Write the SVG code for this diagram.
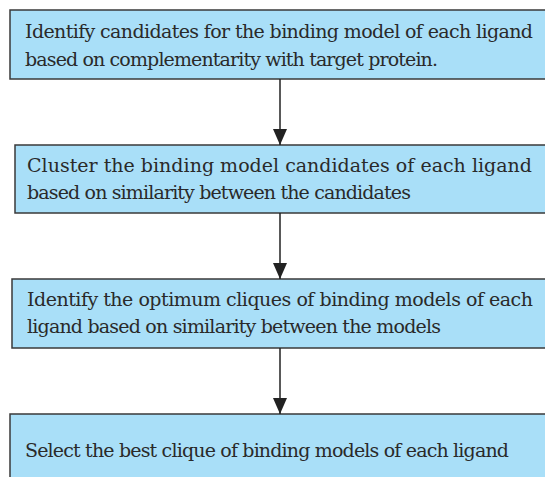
<svg xmlns="http://www.w3.org/2000/svg" width="545" height="477" viewBox="0 0 545 477">
  <style>
    .box { fill: #a9dff8; stroke: #3a3a3a; stroke-width: 1.5; }
    .label { font-family: "DejaVu Serif", "Liberation Serif", serif; font-size: 19px; fill: #2a2a2a; }
    .link { stroke: #222; stroke-width: 1.5; fill: none; marker-end: url(#head); }
  </style>
  <defs>
    <marker id="head" viewBox="0 0 16 14" refX="16" refY="7" markerWidth="16" markerHeight="14" markerUnits="userSpaceOnUse" orient="auto">
      <path d="M0,0 L16,7 L0,14 Z" fill="#222"/>
    </marker>
  </defs>
  <rect width="545" height="477" fill="#ffffff"/>

  <g id="step1">
    <rect class="box" x="10" y="10" width="545" height="69"/>
    <text class="label" x="25" y="38" textLength="508">Identify candidates for the binding model of each ligand</text>
    <text class="label" x="25" y="66" textLength="413">based on complementarity with target protein.</text>
  </g>

  <g id="step2">
    <rect class="box" x="15" y="145" width="545" height="68"/>
    <text class="label" x="27" y="172" textLength="505">Cluster the binding model candidates of each ligand</text>
    <text class="label" x="27" y="199" textLength="384">based on similarity between the candidates</text>
  </g>

  <g id="step3">
    <rect class="box" x="12" y="279" width="545" height="69"/>
    <text class="label" x="27" y="306" textLength="506">Identify the optimum cliques of binding models of each</text>
    <text class="label" x="27" y="333" textLength="414">ligand based on similarity between the models</text>
  </g>

  <g id="step4">
    <rect class="box" x="10" y="414" width="545" height="80"/>
    <text class="label" x="25" y="457" textLength="484">Select the best clique of binding models of each ligand</text>
  </g>

  <g id="connectors">
    <line class="link" x1="280" y1="79" x2="280" y2="145"/>
    <line class="link" x1="280" y1="213" x2="280" y2="279"/>
    <line class="link" x1="280" y1="348" x2="280" y2="414"/>
  </g>
</svg>
